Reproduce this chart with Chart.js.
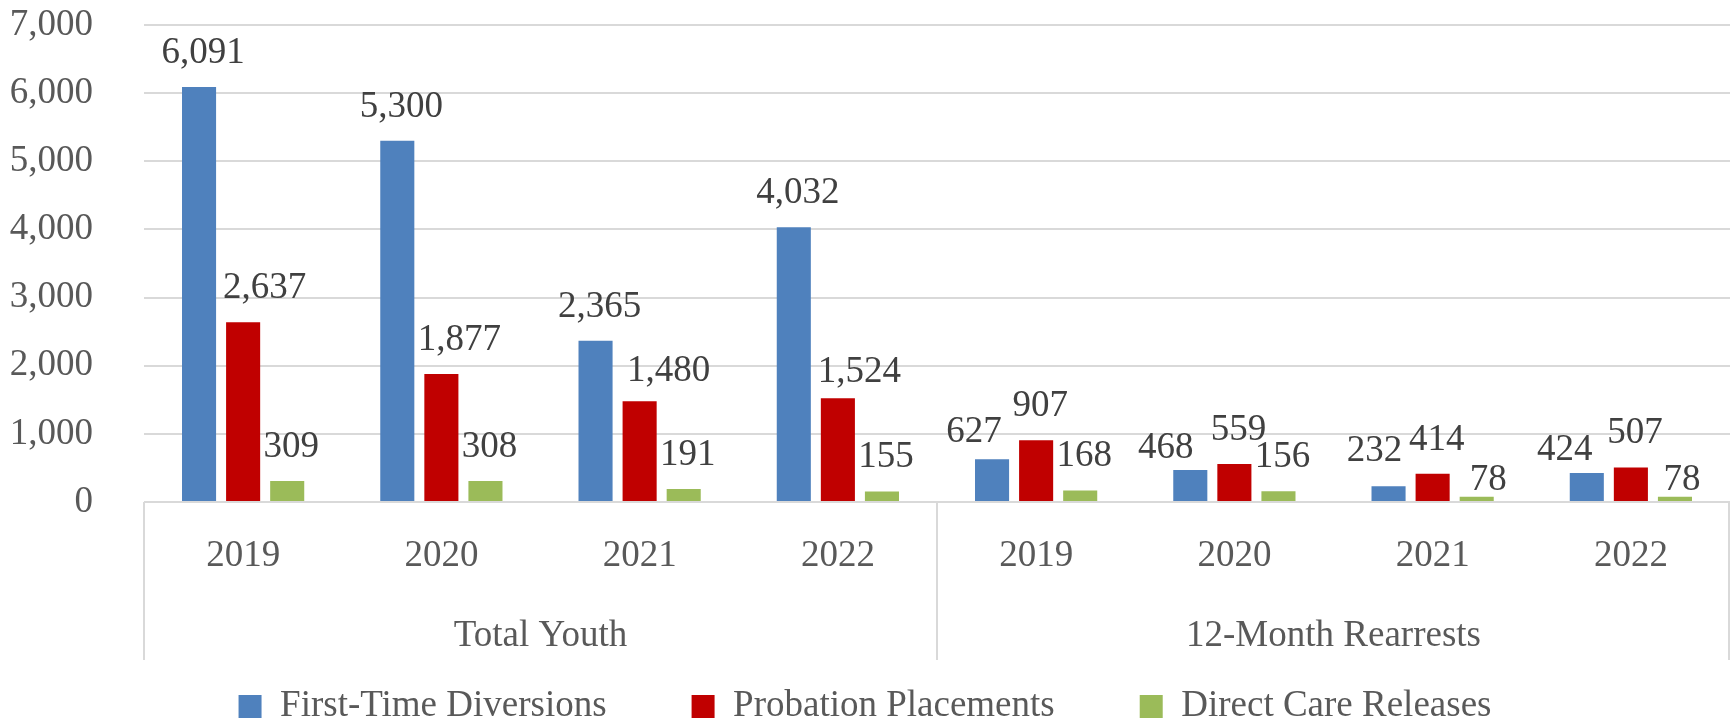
<!DOCTYPE html>
<html>
<head>
<meta charset="utf-8">
<script src="https://cdn.jsdelivr.net/npm/chart.js@4/dist/chart.umd.min.js"></script>
<style>
  html, body { margin: 0; padding: 0; background: #ffffff; }
  #wrap { width: 1730px; height: 721px; position: relative; }
</style>
</head>
<body>
<div id="wrap"><canvas id="chart"></canvas></div>
<script>
// Years shown under each bar cluster, and the two groups they belong to
const years = ['2019', '2020', '2021', '2022', '2019', '2020', '2021', '2022'];
const groups = ['Total Youth', '12-Month Rearrests'];

// Counts per cluster
const firstTimeDiversions = [6091, 5300, 2365, 4032, 627, 468, 232, 424];
const probationPlacements = [2637, 1877, 1480, 1524, 907, 559, 414, 507];
const directCareReleases = [309, 308, 191, 155, 168, 156, 78, 78];

// Value-axis ticks
const yTicks = [0, 1000, 2000, 3000, 4000, 5000, 6000, 7000];

const FONT = 'Liberation Serif';
const GRID = '#d9d9d9';
const AXIS_TEXT = '#595959';
const LABEL_TEXT = '#404040';

// Small offsets that keep crowded value labels clear of neighbouring bars
const labelNudge = {
  '1-0': [17.5, 0], '1-1': [14, 0], '1-2': [25, 4], '1-3': [17.5, 8.5],
  '0-4': [-22, 7.5], '0-5': [-28.5, 12], '0-6': [-18, -1], '0-7': [-26, 11],
  '2-6': [7.5, 17.5], '2-7': [3, 17.5]
};

const valueLabels = {
  id: 'valueLabels',
  afterDatasetsDraw(chart) {
    const ctx = chart.ctx;
    ctx.save();
    ctx.font = '37px "' + FONT + '"';
    ctx.fillStyle = LABEL_TEXT;
    ctx.textAlign = 'center';
    ctx.textBaseline = 'middle';
    chart.data.datasets.forEach((ds, di) => {
      const meta = chart.getDatasetMeta(di);
      meta.data.forEach((bar, i) => {
        const n = labelNudge[di + '-' + i] || [0, 0];
        ctx.fillText(ds.data[i].toLocaleString('en-US'), bar.x + 4 + n[0], bar.y - 34 + n[1]);
      });
    });
    ctx.restore();
  }
};

// Second level of the category axis: group names and the dividers framing them
const groupAxis = {
  id: 'groupAxis',
  afterDraw(chart) {
    const x = chart.scales.x;
    const ctx = chart.ctx;
    const per = years.length / groups.length;
    const edges = [x.left];
    for (let g = 1; g < groups.length; g++) {
      edges.push((x.getPixelForTick(g * per - 1) + x.getPixelForTick(g * per)) / 2);
    }
    edges.push(x.right);
    ctx.save();
    ctx.strokeStyle = GRID;
    ctx.lineWidth = 2;
    edges.forEach((px, k) => {
      const lx = k === edges.length - 1 ? px - 1 : px;
      ctx.beginPath();
      ctx.moveTo(lx, chart.chartArea.bottom);
      ctx.lineTo(lx, 660);
      ctx.stroke();
    });
    ctx.font = '37px "' + FONT + '"';
    ctx.fillStyle = AXIS_TEXT;
    ctx.textAlign = 'center';
    ctx.textBaseline = 'middle';
    groups.forEach((name, g) => {
      ctx.fillText(name, (edges[g] + edges[g + 1]) / 2, 636);
    });
    ctx.restore();
  }
};

Chart.defaults.font.family = FONT;
Chart.defaults.font.size = 37;
Chart.defaults.color = AXIS_TEXT;

new Chart(document.getElementById('chart'), {
  type: 'bar',
  data: {
    labels: years,
    datasets: [
      { label: 'First-Time Diversions', data: firstTimeDiversions, backgroundColor: '#4F81BD' },
      { label: 'Probation Placements', data: probationPlacements, backgroundColor: '#C00000' },
      { label: 'Direct Care Releases', data: directCareReleases, backgroundColor: '#9BBB59' }
    ]
  },
  options: {
    responsive: true,
    maintainAspectRatio: false,
    animation: false,
    categoryPercentage: 0.667,
    barPercentage: 0.773,
    layout: { padding: { top: 25, right: 0, bottom: 0, left: 0 } },
    plugins: {
      tooltip: { enabled: false },
      legend: {
        position: 'bottom',
        maxHeight: 118,
        labels: {
          boxWidth: 23,
          boxHeight: 23,
          padding: 85,
          color: AXIS_TEXT,
          font: { size: 37, family: FONT }
        }
      }
    },
    scales: {
      y: {
        min: 0,
        max: 7000,
        afterBuildTicks(scale) { scale.ticks = yTicks.map(v => ({ value: v })); },
        afterFit(scale) { scale.width = 144; scale.paddingTop = 0; scale.paddingBottom = 0; },
        grid: { color: GRID, lineWidth: 2, drawTicks: false },
        border: { display: false },
        ticks: {
          padding: 51,
          color: AXIS_TEXT,
          callback: v => v.toLocaleString('en-US')
        }
      },
      x: {
        offset: true,
        afterFit(scale) { scale.height = 101; },
        grid: { display: false },
        border: { display: false },
        ticks: { padding: 24, color: AXIS_TEXT, maxRotation: 0, autoSkip: false }
      }
    }
  },
  plugins: [valueLabels, groupAxis]
});
</script>
</body>
</html>
